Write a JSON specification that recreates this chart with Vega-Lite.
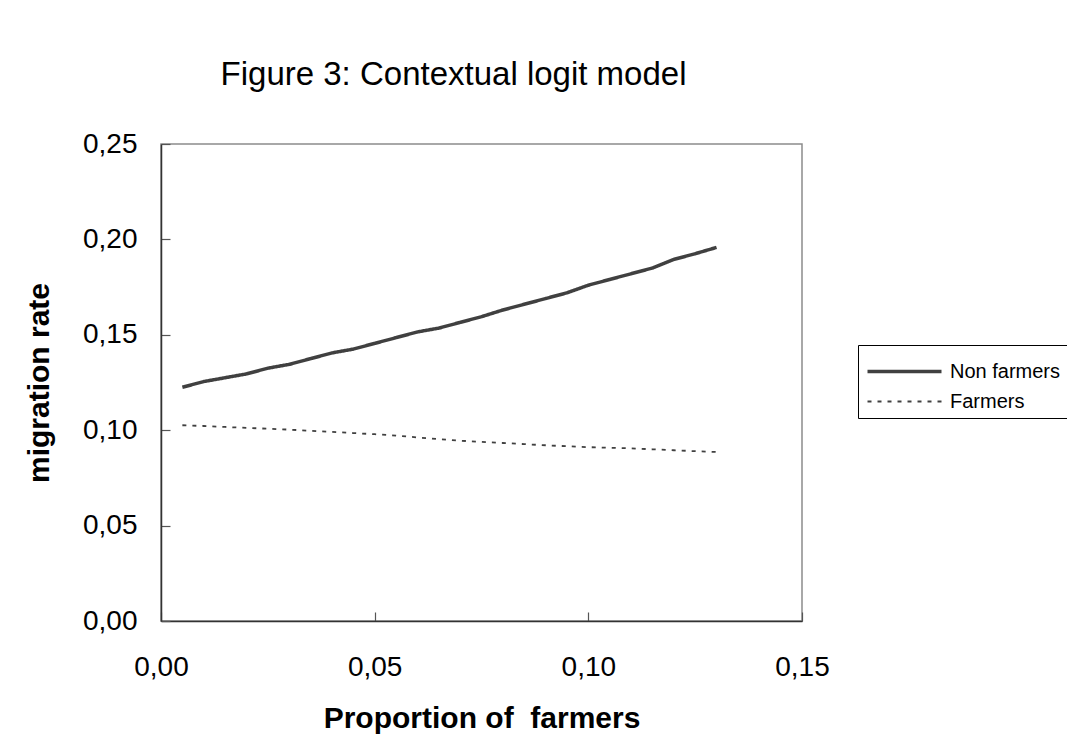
{
  "$schema": "https://vega.github.io/schema/vega-lite/v6.json",
  "width": 641,
  "height": 477,
  "autosize": {"type": "none"},
  "padding": {"left": 161, "top": 144, "right": 265, "bottom": 128},
  "background": "white",
  "title": {
    "text": "Figure 3: Contextual logit model",
    "font": "Liberation Sans",
    "fontSize": 33,
    "fontWeight": "normal",
    "color": "black",
    "anchor": "middle",
    "dx": -28,
    "offset": 38
  },
  "data": {
    "values": [
      {"p": 0.005, "rate": 0.1225, "group": "Non farmers"},
      {"p": 0.010, "rate": 0.1255, "group": "Non farmers"},
      {"p": 0.015, "rate": 0.1275, "group": "Non farmers"},
      {"p": 0.020, "rate": 0.1295, "group": "Non farmers"},
      {"p": 0.025, "rate": 0.1325, "group": "Non farmers"},
      {"p": 0.030, "rate": 0.1345, "group": "Non farmers"},
      {"p": 0.035, "rate": 0.1375, "group": "Non farmers"},
      {"p": 0.040, "rate": 0.1405, "group": "Non farmers"},
      {"p": 0.045, "rate": 0.1425, "group": "Non farmers"},
      {"p": 0.050, "rate": 0.1455, "group": "Non farmers"},
      {"p": 0.055, "rate": 0.1485, "group": "Non farmers"},
      {"p": 0.060, "rate": 0.1515, "group": "Non farmers"},
      {"p": 0.065, "rate": 0.1535, "group": "Non farmers"},
      {"p": 0.070, "rate": 0.1565, "group": "Non farmers"},
      {"p": 0.075, "rate": 0.1595, "group": "Non farmers"},
      {"p": 0.080, "rate": 0.1630, "group": "Non farmers"},
      {"p": 0.085, "rate": 0.1660, "group": "Non farmers"},
      {"p": 0.090, "rate": 0.1690, "group": "Non farmers"},
      {"p": 0.095, "rate": 0.1720, "group": "Non farmers"},
      {"p": 0.100, "rate": 0.1760, "group": "Non farmers"},
      {"p": 0.105, "rate": 0.1790, "group": "Non farmers"},
      {"p": 0.110, "rate": 0.1820, "group": "Non farmers"},
      {"p": 0.115, "rate": 0.1850, "group": "Non farmers"},
      {"p": 0.120, "rate": 0.1895, "group": "Non farmers"},
      {"p": 0.125, "rate": 0.1925, "group": "Non farmers"},
      {"p": 0.130, "rate": 0.1958, "group": "Non farmers"},
      {"p": 0.005, "rate": 0.1026, "group": "Farmers"},
      {"p": 0.010, "rate": 0.1022, "group": "Farmers"},
      {"p": 0.015, "rate": 0.1017, "group": "Farmers"},
      {"p": 0.020, "rate": 0.1012, "group": "Farmers"},
      {"p": 0.025, "rate": 0.1008, "group": "Farmers"},
      {"p": 0.030, "rate": 0.1003, "group": "Farmers"},
      {"p": 0.035, "rate": 0.0997, "group": "Farmers"},
      {"p": 0.040, "rate": 0.0991, "group": "Farmers"},
      {"p": 0.045, "rate": 0.0985, "group": "Farmers"},
      {"p": 0.050, "rate": 0.0979, "group": "Farmers"},
      {"p": 0.055, "rate": 0.0972, "group": "Farmers"},
      {"p": 0.060, "rate": 0.0962, "group": "Farmers"},
      {"p": 0.065, "rate": 0.0953, "group": "Farmers"},
      {"p": 0.070, "rate": 0.0945, "group": "Farmers"},
      {"p": 0.075, "rate": 0.0939, "group": "Farmers"},
      {"p": 0.080, "rate": 0.0933, "group": "Farmers"},
      {"p": 0.085, "rate": 0.0927, "group": "Farmers"},
      {"p": 0.090, "rate": 0.0921, "group": "Farmers"},
      {"p": 0.095, "rate": 0.0916, "group": "Farmers"},
      {"p": 0.100, "rate": 0.0911, "group": "Farmers"},
      {"p": 0.105, "rate": 0.0908, "group": "Farmers"},
      {"p": 0.110, "rate": 0.0905, "group": "Farmers"},
      {"p": 0.115, "rate": 0.0900, "group": "Farmers"},
      {"p": 0.120, "rate": 0.0895, "group": "Farmers"},
      {"p": 0.125, "rate": 0.0890, "group": "Farmers"},
      {"p": 0.130, "rate": 0.0886, "group": "Farmers"}
    ]
  },
  "mark": {"type": "line", "color": "#404040", "strokeCap": "butt"},
  "encoding": {
    "x": {
      "field": "p",
      "type": "quantitative",
      "scale": {"domain": [0, 0.15], "nice": false, "zero": false},
      "axis": {
        "values": [0, 0.05, 0.1, 0.15],
        "title": "Proportion of\u00a0 farmers",
        "labelExpr": "replace(format(datum.value, '.2f'), '.', ',')",
        "tickSize": -9,
        "labelPadding": 41,
        "titlePadding": 22
      }
    },
    "y": {
      "field": "rate",
      "type": "quantitative",
      "scale": {"domain": [0, 0.25], "nice": false},
      "axis": {
        "values": [0, 0.05, 0.1, 0.15, 0.2, 0.25],
        "title": "migration rate",
        "labelExpr": "replace(format(datum.value, '.2f'), '.', ',')",
        "tickSize": -9,
        "labelPadding": 33,
        "titlePadding": 28
      }
    },
    "strokeDash": {
      "field": "group",
      "type": "nominal",
      "scale": {"domain": ["Non farmers", "Farmers"], "range": [[1, 0], [4, 6]]},
      "legend": {"title": null}
    },
    "strokeWidth": {
      "field": "group",
      "type": "nominal",
      "scale": {"domain": ["Non farmers", "Farmers"], "range": [3.5, 1.8]},
      "legend": {"title": null}
    }
  },
  "config": {
    "view": {"stroke": "#8c8c8c", "strokeWidth": 1.5},
    "axis": {
      "grid": false,
      "domainColor": "#333333",
      "domainWidth": 1.5,
      "tickColor": "#555555",
      "tickWidth": 1.2,
      "labelFont": "Liberation Sans",
      "labelFontSize": 28,
      "labelColor": "black",
      "labelFlush": false,
      "labelOverlap": false,
      "titleFont": "Liberation Sans",
      "titleFontSize": 30,
      "titleFontWeight": "bold",
      "titleColor": "black"
    },
    "legend": {
      "orient": "none",
      "legendX": 697,
      "legendY": 201,
      "symbolType": "M-2,0L2,0",
      "symbolSize": 1369,
      "symbolOffset": 20,
      "symbolStrokeColor": "#404040",
      "labelFont": "Liberation Sans",
      "labelFontSize": 20,
      "labelColor": "black",
      "labelOffset": 25,
      "strokeColor": "black",
      "fillColor": "white",
      "padding": 6,
      "rowPadding": 0
    }
  }
}
